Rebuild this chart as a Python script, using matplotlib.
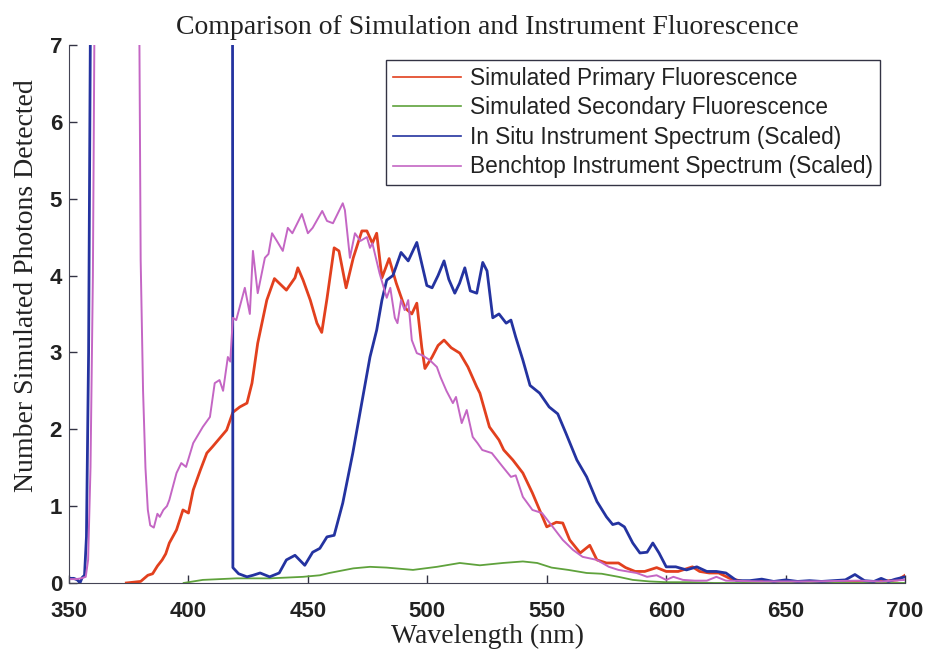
import matplotlib
matplotlib.use("Agg")
import matplotlib.pyplot as plt
import numpy as np

# simulated primary fluorescence
wl_primary = [374, 380, 383, 385, 387, 389, 390.5, 392, 395, 397.7, 400, 402, 405, 407.7, 410, 413, 416,
              418.6, 421.5, 424.5, 426.6, 429, 432.8, 436, 438, 441, 444.6, 445.8, 448, 451, 453.8, 455.8,
              458, 461, 463, 466, 469, 472.6, 474.7, 477, 478.8, 481, 484, 487, 490.6, 493.5, 495.6, 497.7,
              499, 502, 504.5, 507, 510, 513.6, 517, 520.7, 522, 526, 530, 532, 535.8, 540, 544, 547, 550,
              554, 556.7, 559.6, 564, 568, 571, 575, 580, 583, 587, 591, 596, 600, 605, 611, 614, 618, 622,
              626.6, 632, 640, 650, 660, 670, 680, 690, 697, 700]
primary = [0, 0.02, 0.1, 0.12, 0.22, 0.3, 0.38, 0.52, 0.69, 0.95, 0.91, 1.21, 1.47, 1.69, 1.77, 1.88, 1.99,
           2.22, 2.29, 2.34, 2.6, 3.12, 3.68, 3.96, 3.9, 3.81, 3.97, 4.1, 3.94, 3.68, 3.38, 3.26,
           3.7, 4.36, 4.32, 3.84, 4.23, 4.58, 4.58, 4.42, 4.55, 3.97, 4.22, 3.9, 3.58, 3.5, 3.64, 3.06,
           2.79, 2.94, 3.09, 3.16, 3.06, 2.99, 2.81, 2.55, 2.47, 2.03, 1.86, 1.73, 1.6, 1.43, 1.17, 0.95, 0.73,
           0.79, 0.78, 0.56, 0.39, 0.49, 0.3, 0.26, 0.26, 0.2, 0.15, 0.15, 0.2, 0.15, 0.15, 0.21, 0.15, 0.13, 0.13,
           0.06, 0.02, 0.02, 0.02, 0.02, 0.02, 0.02, 0.02, 0.04, 0.1]

# simulated secondary fluorescence
wl_secondary = [398, 406, 420, 434, 448, 455, 459, 469, 476, 483, 494, 504, 513.6, 522, 531.6, 540, 546,
                552, 559, 566.7, 573, 580, 586, 593, 600, 610, 620, 630, 650, 700]
secondary = [0.0, 0.04, 0.06, 0.06, 0.08, 0.1, 0.13, 0.19, 0.21, 0.2, 0.17, 0.21, 0.26, 0.23, 0.26, 0.28, 0.26,
             0.2, 0.17, 0.13, 0.12, 0.08, 0.04, 0.02, 0.01, 0.01, 0.0, 0.0, 0.0, 0.0]

# in situ instrument spectrum (scaled), goes off scale between ~359 and 418 nm
wl_insitu = [350, 352, 353.5, 354.6, 355.5, 356.5, 357.3, 358.2, 359, 359.8, 360.5, 418.2, 418.6, 421, 424.5,
             427, 430, 434, 438, 441, 444.6, 448.7, 452, 455, 458, 461, 464.6, 468.8, 473, 476, 478.8, 481,
             483, 485.6, 489, 492, 495.6, 499.8, 502, 504.5, 507, 509, 511.5, 513.5, 515.7, 518, 520.7, 523.2,
             525, 527.4, 530, 533, 535, 537, 540, 543, 547, 551, 554.6, 558, 562.6, 566.7, 571, 575, 577.6,
             580, 582.5, 586, 589, 592, 594.4, 597, 600, 604, 608.5, 612.8, 617, 621, 625, 629.5, 635, 640,
             645, 650, 655, 660, 665, 670, 675, 679, 683, 687, 690, 693, 696, 700]
insitu = [0.06, 0.06, 0.04, 0.0, 0.07, 0.1, 0.6, 3.0, 7.5, 14, 20, 20, 0.2, 0.12, 0.08,
          0.1, 0.13, 0.08, 0.13, 0.3, 0.36, 0.23, 0.4, 0.45, 0.6, 0.62, 1.04, 1.69, 2.42, 2.94, 3.29, 3.68,
          3.94, 4.0, 4.3, 4.19, 4.43, 3.87, 3.84, 4.0, 4.19, 3.95, 3.77, 3.9, 4.1, 3.8, 3.77, 4.17,
          4.06, 3.45, 3.5, 3.38, 3.42, 3.2, 2.9, 2.57, 2.47, 2.29, 2.2, 1.95, 1.6, 1.38, 1.06, 0.86, 0.76,
          0.78, 0.73, 0.52, 0.39, 0.4, 0.52, 0.39, 0.21, 0.21, 0.17, 0.21, 0.15, 0.15, 0.13, 0.03, 0.03, 0.05,
          0.02, 0.04, 0.02, 0.03, 0.02, 0.03, 0.04, 0.11, 0.03, 0.02, 0.06, 0.02, 0.05, 0.08]

# benchtop instrument spectrum (scaled), off scale between ~361 and 379 nm
wl_bench = [350, 353, 355, 357, 358, 359, 360, 361, 362, 378.5, 379.3, 380, 381, 382, 383, 384, 385.5, 387,
            388, 389.5, 391, 392, 395, 397, 399, 402, 406, 409, 411, 413, 414.5, 416.5, 417.5, 418.6, 420,
            423.6, 425.7, 427, 429, 432, 433.5, 435, 437, 439.5, 441.6, 443.5, 447.5, 450, 452, 456, 458,
            460.5, 464.6, 465.5, 467.6, 469.7, 472, 474.7, 476, 477, 480, 483, 484.5, 486.4, 487.5, 489,
            490.5, 492, 493.5, 495.6, 498, 501, 504, 505.5, 508, 510.7, 512, 514.4, 516.5, 519, 521, 523,
            527, 531.6, 535, 537, 540, 544, 548, 552.5, 556.7, 561, 565, 571, 576, 580, 587.6, 592, 596,
            600, 603, 607, 612, 617, 621, 625, 640, 660, 680, 690, 700]
bench = [0.05, 0.05, 0.06, 0.08, 0.3, 1.5, 4, 9, 20, 20, 8, 4.2, 2.5, 1.5, 0.95, 0.75, 0.72, 0.9,
         0.86, 0.95, 1.0, 1.08, 1.43, 1.56, 1.51, 1.82, 2.03, 2.16, 2.6, 2.64, 2.5, 2.94, 2.88, 3.45, 3.42,
         3.84, 3.5, 4.32, 3.77, 4.23, 4.28, 4.55, 4.45, 4.32, 4.62, 4.55, 4.8, 4.55, 4.62, 4.84, 4.71,
         4.68, 4.94, 4.85, 4.23, 4.55, 4.45, 4.5, 4.36, 4.42, 4.03, 3.71, 3.84, 3.45, 3.38, 3.68,
         3.55, 3.68, 3.16, 2.99, 2.96, 2.9, 2.81, 2.68, 2.5, 2.34, 2.42, 2.08, 2.25, 1.9, 1.82, 1.73,
         1.69, 1.51, 1.38, 1.4, 1.12, 0.95, 0.91, 0.73, 0.56, 0.43, 0.34, 0.3, 0.21, 0.17, 0.13, 0.08, 0.1,
         0.04, 0.08, 0.04, 0.03, 0.03, 0.08, 0.03, 0.02, 0.02, 0.03, 0.02, 0.04]

labels = ["Simulated Primary Fluorescence", "Simulated Secondary Fluorescence",
          "In Situ Instrument Spectrum (Scaled)", "Benchtop Instrument Spectrum (Scaled)"]
xticks = [350, 400, 450, 500, 550, 600, 650, 700]
yticks = [0, 1, 2, 3, 4, 5, 6, 7]

fig = plt.figure(figsize=(9.3, 6.51), dpi=100)
ax = fig.add_axes([0.0742, 0.1045, 0.899, 0.8265])

ax.plot(wl_primary, primary, color="#e2401e", lw=2.0, label=labels[0])
ax.plot(wl_secondary, secondary, color="#5fa23c", lw=1.3, label=labels[1])
ax.plot(wl_insitu, insitu, color="#2433a0", lw=2.0, label=labels[2])
ax.plot(wl_bench, bench, color="#c466c4", lw=1.4, label=labels[3])

ax.set_xlim(350, 700)
ax.set_ylim(0, 7)
ax.set_xticks(xticks)
ax.set_yticks(yticks)
ax.tick_params(direction="in", length=6, width=1, colors="#333344", labelcolor="#222222")
for lbl in ax.get_xticklabels() + ax.get_yticklabels():
    lbl.set_fontfamily("Liberation Sans")
    lbl.set_fontweight("bold")
    lbl.set_fontsize(16)
ax.tick_params(axis="x", pad=13)
ax.tick_params(axis="y", pad=5)

for s in ["top", "right"]:
    ax.spines[s].set_visible(False)
for s in ["left", "bottom"]:
    ax.spines[s].set_color("#444455")

serif = "Liberation Serif"
ax.set_title("Comparison of Simulation and Instrument Fluorescence", fontfamily=serif, fontsize=20, pad=8,
             color="#222222")
ax.set_xlabel("Wavelength (nm)", fontfamily=serif, fontsize=20, labelpad=1, color="#222222")
ax.set_ylabel("Number Simulated Photons Detected", fontfamily=serif, fontsize=20, color="#222222")
ax.yaxis.set_label_coords(-0.036, 0.552)

leg = ax.legend(loc="upper right", bbox_to_anchor=(0.97, 0.972), borderaxespad=0,
                prop={"family": "Liberation Sans", "size": 16.3},
                handlelength=3.0, handletextpad=0.4, labelspacing=0.29, borderpad=0.3,
                fancybox=False, framealpha=1, edgecolor="#333344")
leg.get_frame().set_linewidth(1.0)
for t in leg.get_texts():
    t.set_color("#222222")
for h in leg.get_lines():
    h.set_linewidth(1.2)

fig.savefig("out.png", dpi=100)
